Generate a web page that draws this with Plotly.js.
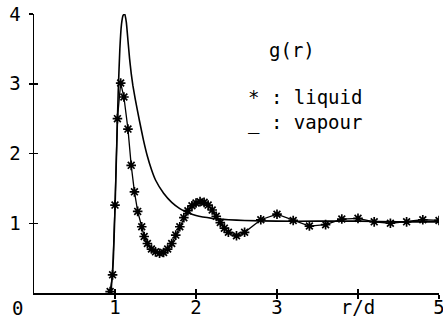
<!DOCTYPE html>
<html>
<head>
<meta charset="utf-8">
<script src="https://cdn.plot.ly/plotly-3.0.1.min.js"></script>
<style>html,body{margin:0;padding:0;background:#fff;}</style>
</head>
<body>
<div id="chart" style="width:443px;height:321px;"></div>
<script>
// Liquid g(r) (asterisks)
const liquidR = [0.94,0.97,1.00,1.03,1.07,1.11,1.16,1.20,1.24,1.28,1.33,1.36,1.40,1.45,1.50,1.55,1.60,1.65,1.70,1.75,1.80,1.85,1.90,1.95,2.00,2.05,2.10,2.15,2.20,2.25,2.30,2.35,2.40,2.50,2.60,2.80,3.00,3.20,3.40,3.60,3.80,4.00,4.20,4.40,4.60,4.80,5.00];
const liquidG = [0.02,0.26,1.26,2.50,3.01,2.81,2.35,1.83,1.45,1.17,0.95,0.81,0.71,0.63,0.59,0.57,0.58,0.63,0.71,0.83,0.95,1.08,1.18,1.25,1.29,1.31,1.30,1.26,1.19,1.10,1.01,0.93,0.87,0.82,0.87,1.05,1.13,1.04,0.96,0.98,1.06,1.07,1.02,1.00,1.02,1.05,1.04];
// Vapour g(r) (solid line)
const vapourR = [0.95,0.98,1.00,1.02,1.04,1.06,1.08,1.10,1.12,1.14,1.16,1.18,1.20,1.22,1.25,1.30,1.35,1.40,1.45,1.50,1.60,1.70,1.80,1.90,2.00,2.20,2.40,2.60,3.00,3.50,4.00,4.50,5.00];
const vapourG = [0.00,0.50,1.20,2.05,2.90,3.50,3.85,3.98,4.00,3.88,3.62,3.36,3.15,2.98,2.78,2.48,2.20,1.96,1.77,1.62,1.43,1.30,1.21,1.15,1.11,1.07,1.05,1.04,1.03,1.03,1.03,1.02,1.02];
const xTickVals = [1,2,3,4,5];
const xTickText = ["1","2","3","r/d","5"];
const yTickVals = [1,2,3,4];
const yTickText = ["1","2","3","4"];

const FONT = {family: "DejaVu Sans Mono, monospace", size: 19, color: "#000"};

const traces = [
  {x: vapourR, y: vapourG, mode: "lines", type: "scatter",
   line: {color: "#000", width: 1.6, shape: "spline", smoothing: 0.4}, hoverinfo: "skip", showlegend: false},
  {x: liquidR, y: liquidG, mode: "lines+markers", type: "scatter",
   line: {color: "#000", width: 1.3},
   marker: {symbol: "asterisk-open", size: 8, color: "#000", line: {color: "#000", width: 1.7}},
   hoverinfo: "skip", showlegend: false},
  {x: [0], y: [0], xaxis: "x2", yaxis: "y2", mode: "markers", marker: {opacity: 0}, hoverinfo: "skip", showlegend: false}
];

const axBase = {showgrid: false, zeroline: false, showline: true, linecolor: "#000", linewidth: 1.5,
                tickcolor: "#000", tickwidth: 1.5, ticklen: 4, fixedrange: true};

const layout = {
  width: 443, height: 321,
  margin: {l: 34, r: 4, t: 14, b: 28},
  paper_bgcolor: "#fff", plot_bgcolor: "#fff",
  font: FONT,
  xaxis: Object.assign({}, axBase, {range: [0, 5], ticks: "inside", tickmode: "array",
          tickvals: xTickVals, ticktext: xTickText, tickfont: FONT, ticklabeloverflow: "allow",
          ticklabelstandoff: -3}),
  yaxis: Object.assign({}, axBase, {range: [0, 4], ticks: "outside", tickmode: "array",
          tickvals: yTickVals, ticktext: yTickText, tickfont: FONT, ticklabelstandoff: 4}),
  xaxis2: Object.assign({}, axBase, {range: [0, 5], overlaying: "x", anchor: "y2", ticks: "outside",
          tickmode: "array", tickvals: xTickVals, showticklabels: false}),
  yaxis2: Object.assign({}, axBase, {range: [0, 4], overlaying: "y", anchor: "x2", ticks: "inside",
          tickmode: "array", tickvals: yTickVals, showticklabels: false}),
  annotations: [
    {text: "0", xref: "x", yref: "y", x: 0, y: 0, xshift: -17, yshift: -15, showarrow: false, font: FONT},
    {text: "g(r)", xref: "x", yref: "y", x: 3.19, y: 3.48, xanchor: "center", showarrow: false, font: FONT},
    {text: "* : liquid", xref: "x", yref: "y", x: 2.62, y: 2.81, xanchor: "left", showarrow: false, font: FONT},
    {text: "_ : vapour", xref: "x", yref: "y", x: 2.62, y: 2.44, xanchor: "left", showarrow: false, font: FONT}
  ]
};

Plotly.newPlot("chart", traces, layout, {staticPlot: true, displayModeBar: false});
</script>
</body>
</html>
